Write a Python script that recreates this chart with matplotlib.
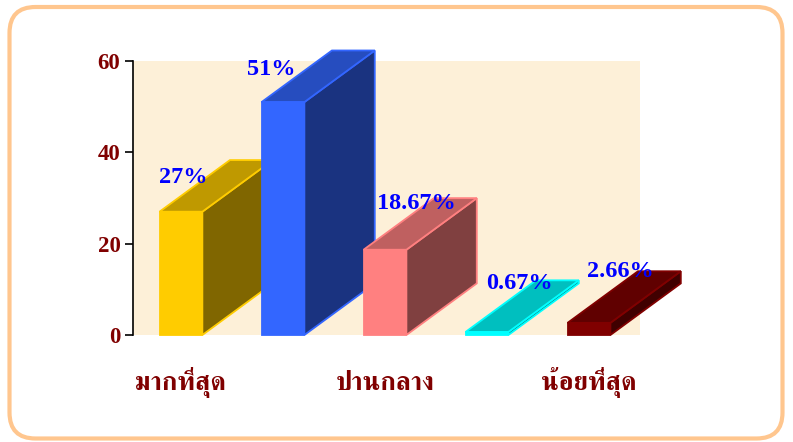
import matplotlib
matplotlib.use("Agg")
import numpy as np
import matplotlib.pyplot as plt
from matplotlib.patches import Polygon, FancyBboxPatch
from matplotlib.transforms import IdentityTransform
from matplotlib.colors import to_rgb

# data
values = [27, 51, 18.67, 0.67, 2.66]
value_labels = ["27%", "51%", "18.67%", "0.67%", "2.66%"]
bar_colors = ["#FFCC00", "#3366FF", "#FF8080", "#00FFFF", "#800000"]
categories = ["มากที่สุด", "ปานกลาง", "น้อยที่สุด"]
category_pos = [0, 2, 4]
y_ticks = [0, 20, 40, 60]

# where the value labels sit relative to each bar top
label_dx = [0.02, -0.11, 0.31, 0.32, 0.31]
label_dy = [7.5, 7.1, 10.2, 10.6, 11.2]

W, H = 793, 442
fig = plt.figure(figsize=(W / 100, H / 100), dpi=100)
fig.patch.set_facecolor("white")

# rounded frame round the whole chart
frame = FancyBboxPatch((9.5, 3.5), 773, 431.5, boxstyle="round,pad=0,rounding_size=26",
                       transform=IdentityTransform(), facecolor="none",
                       edgecolor="#FFC68E", linewidth=3)
fig.patches.append(frame)

ax = fig.add_axes([133 / W, (H - 335) / H, 507 / W, (335 - 61) / H])
ax.set_facecolor("#FDF0D8")
ax.set_xlim(-0.47, 4.5)
ax.set_ylim(0, 60)

bar_w = 0.42
depth_x, depth_y = 0.69, 11.3

for i, (v, c) in enumerate(zip(values, bar_colors)):
    base = np.array(to_rgb(c))
    x0, x1 = i - bar_w / 2, i + bar_w / 2
    front = [(x0, 0), (x1, 0), (x1, v), (x0, v)]
    side = [(x1, 0), (x1 + depth_x, depth_y), (x1 + depth_x, v + depth_y), (x1, v)]
    top = [(x0, v), (x1, v), (x1 + depth_x, v + depth_y), (x0 + depth_x, v + depth_y)]
    z = 3 + i
    for pts, shade in ((side, 0.5), (top, 0.75), (front, 1.0)):
        ax.add_patch(Polygon(pts, closed=True, facecolor=base * shade, edgecolor=c,
                             linewidth=1.3, joinstyle="miter", clip_on=False, zorder=z))
    ax.text(i + label_dx[i], v + label_dy[i], value_labels[i], color="#0000FF",
            fontsize=17.5, fontweight="bold", family="Liberation Serif",
            ha="center", va="center", zorder=20, clip_on=False)

ax.set_yticks(y_ticks)
ax.set_yticklabels([str(t) for t in y_ticks], color="#800000", fontsize=16.5,
                   fontweight="bold", family="Liberation Serif")
ax.tick_params(axis="y", length=6, width=1.2, color="black", pad=3)

ax.set_xticks(category_pos)
ax.set_xticklabels(categories, color="#800000", fontsize=19, fontweight="bold",
                   family=["FreeSerif", "DejaVu Sans"])
for lbl in ax.get_xticklabels():
    lbl.set_va("baseline")
ax.tick_params(axis="x", length=0, pad=39.5)

for s in ("top", "right", "bottom"):
    ax.spines[s].set_visible(False)
ax.spines["left"].set_linewidth(1.2)
ax.spines["left"].set_color("black")

fig.savefig("out.png", dpi=100)
